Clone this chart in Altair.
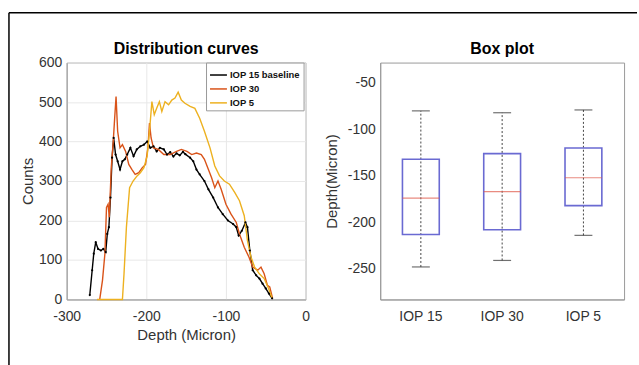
import altair as alt
import pandas as pd

FONT = "Liberation Sans"

# ---- Distribution curves data ----
series_names = ["IOP 15 baseline", "IOP 30", "IOP 5"]
series_colors = ["#000000", "#D95319", "#EDB120"]

iop15_depth = [-271, -268, -266, -263.5, -260.6, -257, -254, -251, -249, -247, -245, -243, -241, -238.6,
               -236, -233, -230, -227, -224, -220, -216, -212, -207.5, -203, -199, -195, -191, -187,
               -183, -178, -174, -170, -166, -162, -158, -154, -151, -145, -141, -137, -133, -127,
               -122, -116, -110, -104, -97.5, -91, -87, -84, -80, -75.5, -73, -70, -66.4, -62, -58,
               -54, -50, -46, -42]
iop15_count = [11, 74, 116, 145, 128, 124, 128, 120, 166, 183, 258, 359, 409, 367,
               350, 329, 350, 355, 367, 384, 363, 380, 388, 392, 400, 384, 388, 375,
               384, 380, 367, 373, 362, 370, 365, 374, 368, 359, 350, 329, 317, 300,
               279, 258, 233, 216, 200, 191, 183, 162, 174, 195, 183, 124, 74, 61, 53,
               40, 28, 15, 3]

iop30_depth = [-258.5, -255, -252, -250, -248, -246.5, -244, -241.5, -240, -238, -236, -233, -230,
               -226, -222, -218, -214, -209.5, -205, -201, -198, -196, -194, -191, -185, -178, -170,
               -162, -156, -149, -143, -137, -131, -127, -122, -118, -114, -110, -106, -100, -93.6,
               -87, -83, -77, -71, -66.4, -60, -56, -52, -48, -45, -41.5]
iop30_count = [0, 49, 116, 233, 241, 208, 334, 401, 451, 514, 426, 384, 392,
               375, 342, 329, 317, 321, 334, 342, 384, 447, 409, 384, 380, 367, 367,
               375, 380, 375, 367, 371, 367, 355, 329, 308, 283, 300, 279, 241, 216,
               195, 166, 132, 107, 82, 74, 82, 65, 36, 32, 3]

iop5_depth = [-262, -230, -228, -225, -221, -216.6, -211.6, -207.5, -203, -199, -196, -193, -190,
              -187, -183.6, -180.5, -176.5, -172, -168, -164, -160, -156, -151.5, -145, -139, -133,
              -127, -120, -114, -108, -102, -95.6, -89, -83, -77, -73, -68.5, -64, -58, -52, -46.5, -42]
iop5_count = [0, 0, 65, 183, 283, 300, 313, 321, 334, 363, 426, 501, 468,
              484, 501, 476, 501, 493, 505, 510, 525, 505, 497, 489, 484, 459,
              426, 384, 338, 313, 300, 292, 271, 250, 212, 149, 107, 82, 65, 53, 28, 3]

# ---- Box plot data ----
box_groups = ["IOP 15", "IOP 30", "IOP 5"]
box_lower = [-248, -241, -214]
box_q1 = [-213, -208, -182]
box_median = [-174, -167, -152]
box_q3 = [-132, -126, -120]
box_upper = [-80, -82, -79]

rows = []
for name, xs, ys in zip(series_names, [iop15_depth, iop30_depth, iop5_depth],
                        [iop15_count, iop30_count, iop5_count]):
    for i, (a, b) in enumerate(zip(xs, ys)):
        rows.append({"series": name, "depth": a, "count": b, "order": i})
curves = pd.DataFrame(rows)
base15 = curves[curves["series"] == "IOP 15 baseline"]

box_df = pd.DataFrame({"group": box_groups, "lower": box_lower, "q1": box_q1,
                       "median": box_median, "q3": box_q3, "upper": box_upper})

W, H = 240, 238
HYPHEN = "replace(datum.label, '\u2212', '-')"

x_enc = alt.X("depth:Q", scale=alt.Scale(domain=[-300, 0], nice=False),
              axis=alt.Axis(values=[-300, -200, -100, 0], title="Depth (Micron)", grid=True,
                            ticks=False, labelPadding=10, titlePadding=4, labelFlush=False,
                            labelOverlap=False, labelExpr=HYPHEN))
y_enc = alt.Y("count:Q", scale=alt.Scale(domain=[0, 600], nice=False),
              axis=alt.Axis(values=[0, 100, 200, 300, 400, 500, 600], title="Counts", grid=True,
                            ticks=False, labelPadding=5, titlePadding=3, labelFlush=False,
                            labelOverlap=False))

lines = alt.Chart(curves).mark_line(strokeWidth=1.4).encode(
    x=x_enc,
    y=y_enc,
    order="order:Q",
    color=alt.Color("series:N", scale=alt.Scale(domain=series_names, range=series_colors),
                    legend=alt.Legend(orient="none", legendX=140, legendY=0, title=None,
                                      symbolType="stroke", symbolSize=289, symbolStrokeWidth=1.5,
                                      labelFontSize=9.5, labelFontWeight="bold", labelFont=FONT,
                                      labelColor="#111", fillColor="white", strokeColor="#999",
                                      padding=3, rowPadding=0, labelOffset=2)),
)
pts = alt.Chart(base15).mark_circle(size=5, color="black", opacity=1).encode(x=x_enc, y=y_enc)

frame_src = pd.DataFrame({"f": [0]})
frame_top = alt.Chart(frame_src).mark_rule(color="black", strokeWidth=1.5).encode(
    x=alt.value(-58), x2=alt.value(573), y=alt.value(-50))
frame_left = alt.Chart(frame_src).mark_rule(color="black", strokeWidth=1.5).encode(
    x=alt.value(-58), y=alt.value(-50), y2=alt.value(304))
left_title = alt.Chart(frame_src).mark_text(
    font=FONT, fontSize=16, fontWeight="bold", color="black", baseline="middle", align="center"
).encode(x=alt.value(W / 2), y=alt.value(-14), text=alt.value("Distribution curves"))

left = alt.layer(lines, pts, frame_top, frame_left, left_title).properties(width=W, height=H)

# ---- Box plot ----
def yb(field):
    return alt.Y(f"{field}:Q", scale=alt.Scale(domain=[-283, -28], nice=False, zero=False),
                 axis=alt.Axis(values=[-50, -100, -150, -200, -250], title="Depth(Micron)",
                               grid=False, ticks=False, labelPadding=5, titlePadding=8,
                               labelOverlap=False, labelFlush=False, labelExpr=HYPHEN))

xb = alt.X("group:N", sort=box_groups, scale=alt.Scale(paddingInner=0, paddingOuter=0),
           axis=alt.Axis(labelAngle=0, title=None, grid=False, ticks=False, labelPadding=10))

whisk = alt.Chart(box_df).mark_rule(color="#444", strokeDash=[2, 2], strokeWidth=1).encode(
    x=xb, y=yb("lower"), y2="upper:Q")
boxes = alt.Chart(box_df).mark_bar(size=37, fillOpacity=0, stroke="#6a6ad2", strokeWidth=1.6).encode(
    x=xb, y=yb("q1"), y2="q3:Q")
med = alt.Chart(box_df).mark_tick(size=37, thickness=1.2, color="#e05a4a").encode(x=xb, y=yb("median"))
cap_lo = alt.Chart(box_df).mark_tick(size=18, thickness=1.2, color="#333").encode(x=xb, y=yb("lower"))
cap_hi = alt.Chart(box_df).mark_tick(size=18, thickness=1.2, color="#333").encode(x=xb, y=yb("upper"))

right = alt.layer(whisk, boxes, med, cap_lo, cap_hi).properties(
    width=245, height=H,
    title=alt.TitleParams("Box plot", fontSize=16, fontWeight="bold", font=FONT,
                          color="black", offset=6, frame="group"))

chart = alt.hconcat(left, right, spacing=75, bounds="flush").resolve_legend(
    color="independent"
).resolve_scale(color="independent").properties(
    padding={"left": 7, "top": 10, "right": 0, "bottom": 0},
    background="white",
).configure_view(stroke="#999", strokeWidth=1).configure_axis(
    labelFont=FONT, labelFontSize=14, labelColor="#333",
    titleFont=FONT, titleFontSize=15, titleFontWeight="normal", titleColor="#333",
    domainColor="#999", gridColor="#e8e8e8", tickColor="#999"
)

chart.save("out.html", embed_options={"renderer": "svg", "actions": False})
